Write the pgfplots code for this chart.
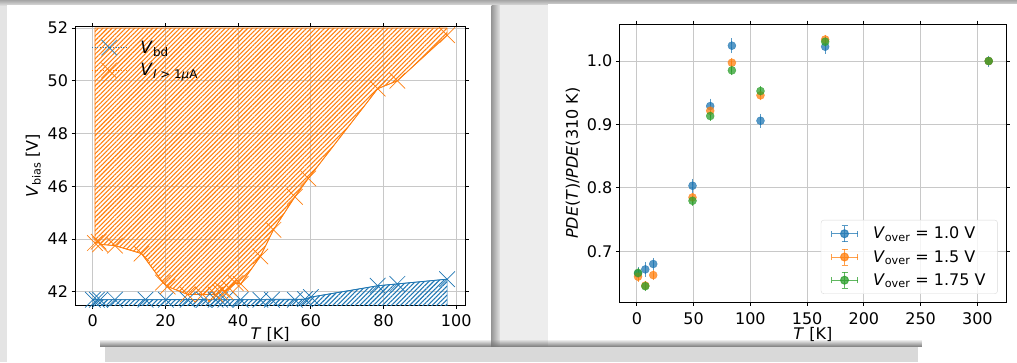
\documentclass[border=0pt]{standalone}
\usepackage{pgfplots}
\pgfplotsset{compat=1.18}
\usepackage{pgfplotstable}
\usepackage{fontspec}
\setmainfont{DejaVu Sans}
\usetikzlibrary{patterns.meta,fadings}

\definecolor{mblue}{HTML}{1F77B4}
\definecolor{morange}{HTML}{FF7F0E}
\definecolor{mgreen}{HTML}{2CA02C}
\definecolor{gridc}{HTML}{C8C8C8}
\definecolor{bgcol}{HTML}{E4E4E4}
\definecolor{boxcol}{HTML}{D9D9D9}

% breakdown voltage and 1 uA current threshold versus temperature
\pgfplotstableread{
T V
0.0 41.70
1.1 41.70
2.0 41.70
6.1 41.70
14.5 41.70
20.1 41.70
26.1 41.70
30.6 41.70
33.8 41.70
35.0 41.70
36.5 41.70
40.7 41.70
46.1 41.70
49.3 41.70
55.6 41.70
58.4 41.72
60.0 41.80
78.4 42.23
83.8 42.30
97.5 42.48
}\vbd

\pgfplotstableread{
T V
0.6 43.85
1.6 43.90
2.0 43.80
6.1 43.75
13.4 43.45
19.3 42.35
20.6 42.20
26.1 41.90
30.2 41.90
33.8 41.90
35.0 42.00
35.6 42.08
36.5 42.00
37.5 42.15
39.3 42.33
40.7 42.30
46.1 43.34
49.7 44.35
55.6 45.60
59.3 46.30
78.4 49.70
83.8 50.00
97.5 51.73
}\vcur

% relative PDE for three overvoltages
\pgfplotstableread{
T p e
1.0 0.665 0.005
7.4 0.6715 0.007
14.4 0.680 0.005
49.0 0.8034 0.006
64.6 0.929 0.007
83.7 1.0242 0.007
108.9 0.9059 0.006
165.9 1.0226 0.006
310.0 1.000 0.004
}\pdea

\pgfplotstableread{
T p e
1.0 0.660 0.003
7.4 0.646 0.003
14.4 0.6625 0.003
49.0 0.785 0.003
64.6 0.9216 0.004
83.7 0.9973 0.003
108.9 0.9459 0.003
165.9 1.034 0.003
310.0 1.000 0.002
}\pdeb

\pgfplotstableread{
T p e
1.0 0.666 0.003
7.4 0.645 0.003
49.0 0.7797 0.003
64.6 0.9133 0.003
83.7 0.9853 0.003
108.9 0.9527 0.003
165.9 1.0305 0.003
310.0 1.000 0.002
}\pdec

\pgfplotsset{
  mplstyle/.style={
    scale only axis,
    grid=major,
    grid style={gridc, line width=1pt},
    tick align=outside,
    major tick length=3.5pt,
    tick style={black, line width=0.8pt},
    axis line style={line width=0.8pt},
    tick label style={font=\fontsize{16}{19}\selectfont},
    xticklabel style={yshift=-3pt},
    label style={font=\fontsize{16}{19}\selectfont},
    xlabel style={yshift=4pt},
    /pgf/number format/assume math mode=true,
  },
  pdeplot/.style={#1, only marks, mark=*, mark size=4pt, opacity=0.75,
    error bars/.cd, y dir=both, y explicit,
    error bar style={line width=1pt},
    error mark options={line width=1pt, mark size=3pt}},
}

\begin{document}
\begin{tikzpicture}
\useasboundingbox (0pt,0pt) rectangle (1017pt,-362pt);
% page background and cards
\fill[bgcol] (0pt,0pt) rectangle (1017pt,-362pt);
\shade[top color=black!35, bottom color=bgcol] (0pt,0pt) rectangle (1017pt,-6pt);
\fill[white] (7pt,-5pt) rectangle (491.7pt,-362pt);
\shade[left color=black!40, right color=bgcol] (491.7pt,-5pt) rectangle (500pt,-347pt);
\fill[black!7] (500pt,-5pt) rectangle (548.3pt,-347pt);
\fill[white] (548.3pt,-4pt) rectangle (1017pt,-362pt);

% left panel
\begin{axis}[
  mplstyle,
  at={(75pt,-305pt)}, anchor=south west,
  width=390.3pt, height=278.3pt,
  xmin=-4.9, xmax=102.5, ymin=41.5, ymax=52.05,
  xtick={0,20,40,60,80,100},
  ytick={42,44,46,48,50,52},
  xlabel={\textit{T} [K]},
  xlabel style={yshift=3pt},
  ylabel={\textit{V}\textsubscript{bias} [V]},
  legend style={at={(0.035,0.965)}, anchor=north west, draw=none, fill=none,
    font=\fontsize{17}{20}\selectfont, row sep=5pt,
    /tikz/every odd column/.append style={column sep=12pt}},
  legend cell align=left,
  legend image code/.code={%
    \draw[#1, line width=0.6pt, dotted] (0pt,0pt) -- (34pt,0pt);
    \draw[#1, only marks] plot coordinates {(17pt,0pt)};},
]
\addplot[draw=morange, line width=0.6pt,
  pattern={Lines[angle=45,distance=3.2pt,line width=1.1pt]}, pattern color=morange,
  forget plot] coordinates {
  (0.6,52.0) (0.6,43.85) (1.6,43.90) (2.0,43.80) (6.1,43.75) (13.4,43.45)
  (19.3,42.35) (20.6,42.20) (26.1,41.90) (30.2,41.90) (33.8,41.90) (35.0,42.00)
  (35.6,42.08) (36.5,42.00) (37.5,42.15) (39.3,42.33) (40.7,42.30) (46.1,43.34)
  (49.7,44.35) (55.6,45.60) (59.3,46.30) (78.4,49.70) (83.8,50.00) (97.5,51.73)
  (97.5,52.0)} -- cycle;
\addplot[draw=mblue, line width=0.6pt,
  pattern={Lines[angle=45,distance=3.2pt,line width=1.1pt]}, pattern color=mblue,
  forget plot] coordinates {
  (0.0,41.0) (0.0,41.70) (58.4,41.72) (60.0,41.80) (78.4,42.23) (83.8,42.30)
  (97.5,42.48) (97.5,41.0)} -- cycle;
\addplot[mblue, line width=0.8pt, mark=x, mark size=11pt,
  mark options={line width=0.7pt, solid}] table[x=T, y=V] {\vbd};
\addlegendentry{\textit{V}\textsubscript{bd}}
\addplot[morange, line width=0.8pt, mark=x, mark size=11pt,
  mark options={line width=0.7pt, solid}] table[x=T, y=V] {\vcur};
\addlegendentry{\textit{V}\textsubscript{\textit{I} > 1\textit{μ}A}}
\end{axis}

% right panel
\begin{axis}[
  mplstyle,
  at={(619.3pt,-302.3pt)}, anchor=south west,
  width=387pt, height=278.3pt,
  xmin=-15.5, xmax=325.5, ymin=0.6196, ymax=1.0584,
  xtick={0,50,100,150,200,250,300},
  ytick={0.7,0.8,0.9,1.0},
  yticklabel style={/pgf/number format/.cd, fixed, fixed zerofill, precision=1},
  xlabel={\textit{T} [K]},
  ylabel={\textit{PDE}(\textit{T})/\textit{PDE}(310 K)},
  legend style={at={(0.978,0.03)}, anchor=south east, draw=black!15,
    rounded corners=3pt, fill=white, fill opacity=0.8, text opacity=1,
    font=\fontsize{16}{19}\selectfont, row sep=6pt, inner xsep=10pt, inner ysep=5pt,
    /tikz/every odd column/.append style={column sep=13pt}},
  legend cell align=left,
  legend image code/.code={%
    \begin{scope}[#1, opacity=0.75, line width=1pt]
    \draw (0pt,0pt) -- (26pt,0pt) (13pt,-8pt) -- (13pt,8pt);
    \draw (0pt,-3pt) -- (0pt,3pt) (26pt,-3pt) -- (26pt,3pt)
          (10pt,-8pt) -- (16pt,-8pt) (10pt,8pt) -- (16pt,8pt);
    \fill (13pt,0pt) circle (4pt);
    \end{scope}},
]
\addplot[pdeplot=mblue] table[x=T, y=p, y error=e] {\pdea};
\addlegendentry{\textit{V}\textsubscript{over} = 1.0 V}
\addplot[pdeplot=morange] table[x=T, y=p, y error=e] {\pdeb};
\addlegendentry{\textit{V}\textsubscript{over} = 1.5 V}
\addplot[pdeplot=mgreen] table[x=T, y=p, y error=e] {\pdec};
\addlegendentry{\textit{V}\textsubscript{over} = 1.75 V}
\end{axis}

% overlapping panel at the bottom, with its soft shadow
\fill[black!55, path fading=north] (100pt,-339pt) rectangle (922pt,-347.3pt);
\fill[boxcol] (105pt,-347.3pt) rectangle (918pt,-362pt);
\end{tikzpicture}
\end{document}
